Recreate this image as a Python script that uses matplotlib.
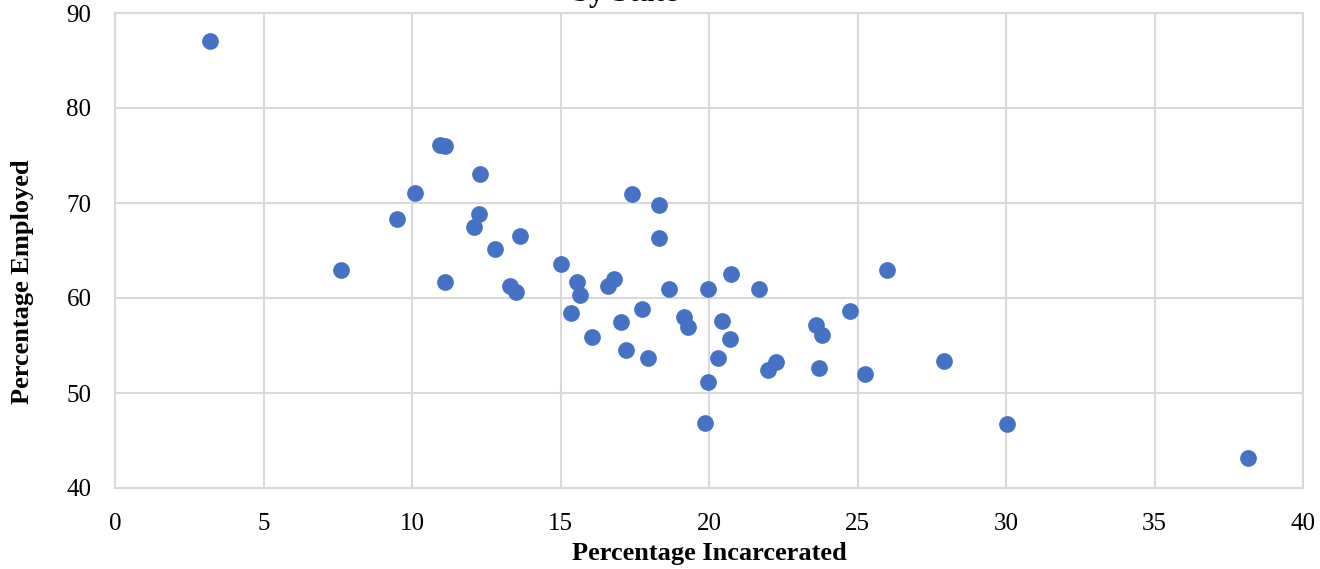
import matplotlib
matplotlib.use("Agg")
import matplotlib.pyplot as plt

# percentage incarcerated (x) and percentage employed (y), one point per state
pct_incarcerated = [3.2, 7.6, 9.5, 10.1, 10.95, 11.1, 11.1, 12.1, 12.25, 12.3,
                    12.8, 13.3, 13.5, 13.65, 15.0, 15.35, 15.55, 15.65, 16.05, 16.6,
                    16.8, 17.05, 17.2, 17.4, 17.75, 17.95, 18.3, 18.3, 18.65, 19.15,
                    19.3, 19.95, 19.95, 19.85, 20.3, 20.45, 20.7, 20.75, 21.7, 22.0,
                    22.25, 23.6, 23.7, 23.8, 24.75, 25.25, 26.0, 27.9, 30.05, 38.15]
pct_employed = [87.1, 62.9, 68.3, 71.1, 76.1, 76.0, 61.7, 67.5, 68.8, 73.1,
                65.2, 61.3, 60.6, 66.5, 63.6, 58.4, 61.7, 60.3, 55.9, 61.3,
                62.0, 57.5, 54.5, 71.0, 58.8, 53.7, 69.8, 66.3, 60.9, 58.0,
                56.9, 61.0, 51.2, 46.8, 53.7, 57.6, 55.7, 62.5, 60.9, 52.4,
                53.3, 57.2, 52.6, 56.1, 58.6, 52.0, 63.0, 53.4, 46.7, 43.2]

plt.rcParams['font.family'] = ['Liberation Serif', 'DejaVu Serif']

fig = plt.figure(figsize=(13.2, 5.69), dpi=100)
ax = fig.add_axes([115 / 1320, 1 - 488 / 569, (1303 - 115) / 1320, (488 - 13) / 569])

ax.scatter(pct_incarcerated, pct_employed, s=145, color="#4472C4", zorder=3, linewidths=0)

ax.set_xlim(0, 40)
ax.set_ylim(40, 90)
ax.set_xticks(range(0, 41, 5))
ax.set_yticks(range(40, 91, 10))
ax.grid(True, color="#D9D9D9", linewidth=1.5)
ax.set_axisbelow(True)
for side in ax.spines.values():
    side.set_color("#D9D9D9")
    side.set_linewidth(1.5)
ax.tick_params(length=0, labelsize=18)
ax.tick_params(axis="x", pad=18)
ax.tick_params(axis="y", pad=17)

ax.set_xlabel("Percentage Incarcerated", fontsize=19, fontweight="bold", labelpad=5)
ax.set_ylabel("Percentage Employed", fontsize=19, fontweight="bold", labelpad=23)
# the y label sits a bit below the middle of the axis
ax.yaxis.label.set_y(0.434)

# title is cut off at the top of the image, only the bottom of "by State" shows
fig.text(625 / 1320, 1 - 1 / 569, "by State", ha="center", va="baseline",
         fontsize=22, fontweight="bold")

fig.savefig("out.png", dpi=100)
